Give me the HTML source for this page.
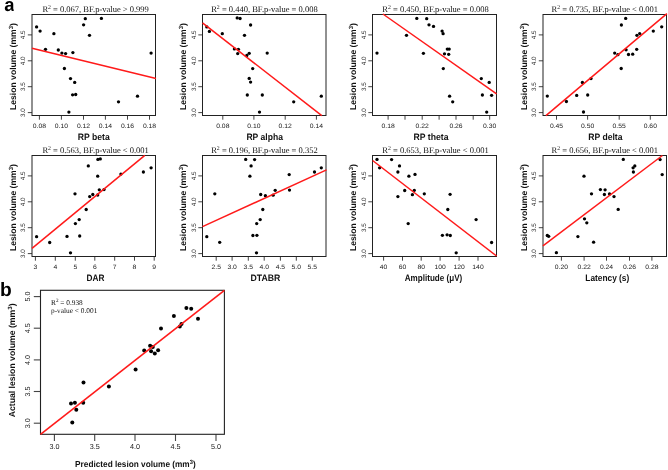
<!DOCTYPE html>
<html><head><meta charset="utf-8"><style>
html,body{margin:0;padding:0;background:#fff;}
svg{display:block;text-rendering:geometricPrecision;}
#w{will-change:transform;width:668px;height:470px;overflow:hidden;}
</style></head><body>
<div id="w"><svg width="668" height="470" viewBox="0 0 668 470">
<g>
<rect width="668" height="470" fill="#fff"/>
<clipPath id="ca"><rect x="0" y="0" width="13.7" height="14"/></clipPath>
<text x="4.3" y="10.9" clip-path="url(#ca)" font-family='"Liberation Sans", sans-serif' font-weight="bold" font-size="18.6" fill="#000">a</text>
<text x="0.1" y="295.5" font-family='"Liberation Sans", sans-serif' font-weight="bold" font-size="19.2" fill="#000">b</text>
<text x="42.4" y="11.6" font-family='"Liberation Serif", serif' font-size="8.5" fill="#111">R<tspan font-size="5.78" dy="-2.5">2</tspan><tspan dy="2.5"> = 0.067, BF.p-value &gt; 0.999</tspan></text>
<text transform="translate(15.7,66.5) rotate(-90)" font-family='"Liberation Sans", sans-serif' font-weight="bold" font-size="8.6" text-anchor="middle" fill="#111">Lesion volume (mm<tspan font-size="6.02" dy="-3.2">3</tspan><tspan dy="3.2">)</tspan></text>
<line x1="27.8" y1="112.6" x2="32" y2="112.6" stroke="#444" stroke-width="1"/>
<text transform="translate(25.2,112.6) rotate(-90)" font-family='"Liberation Sans", sans-serif' font-size="6.3" text-anchor="middle" fill="#1a1a1a">3.0</text>
<line x1="27.8" y1="86.7" x2="32" y2="86.7" stroke="#444" stroke-width="1"/>
<text transform="translate(25.2,86.7) rotate(-90)" font-family='"Liberation Sans", sans-serif' font-size="6.3" text-anchor="middle" fill="#1a1a1a">3.5</text>
<line x1="27.8" y1="60.8" x2="32" y2="60.8" stroke="#444" stroke-width="1"/>
<text transform="translate(25.2,60.8) rotate(-90)" font-family='"Liberation Sans", sans-serif' font-size="6.3" text-anchor="middle" fill="#1a1a1a">4.0</text>
<line x1="27.8" y1="34.9" x2="32" y2="34.9" stroke="#444" stroke-width="1"/>
<text transform="translate(25.2,34.9) rotate(-90)" font-family='"Liberation Sans", sans-serif' font-size="6.3" text-anchor="middle" fill="#1a1a1a">4.5</text>
<line x1="39.4" y1="115.5" x2="39.4" y2="119.7" stroke="#444" stroke-width="1"/>
<text transform="translate(39.4,127.6) scale(1.08,1)" font-family='"Liberation Sans", sans-serif' font-size="6.3" text-anchor="middle" fill="#1a1a1a">0.08</text>
<line x1="61.4" y1="115.5" x2="61.4" y2="119.7" stroke="#444" stroke-width="1"/>
<text transform="translate(61.4,127.6) scale(1.08,1)" font-family='"Liberation Sans", sans-serif' font-size="6.3" text-anchor="middle" fill="#1a1a1a">0.10</text>
<line x1="83.5" y1="115.5" x2="83.5" y2="119.7" stroke="#444" stroke-width="1"/>
<text transform="translate(83.5,127.6) scale(1.08,1)" font-family='"Liberation Sans", sans-serif' font-size="6.3" text-anchor="middle" fill="#1a1a1a">0.12</text>
<line x1="105.4" y1="115.5" x2="105.4" y2="119.7" stroke="#444" stroke-width="1"/>
<text transform="translate(105.4,127.6) scale(1.08,1)" font-family='"Liberation Sans", sans-serif' font-size="6.3" text-anchor="middle" fill="#1a1a1a">0.14</text>
<line x1="127.5" y1="115.5" x2="127.5" y2="119.7" stroke="#444" stroke-width="1"/>
<text transform="translate(127.5,127.6) scale(1.08,1)" font-family='"Liberation Sans", sans-serif' font-size="6.3" text-anchor="middle" fill="#1a1a1a">0.16</text>
<line x1="149.5" y1="115.5" x2="149.5" y2="119.7" stroke="#444" stroke-width="1"/>
<text transform="translate(149.5,127.6) scale(1.08,1)" font-family='"Liberation Sans", sans-serif' font-size="6.3" text-anchor="middle" fill="#1a1a1a">0.18</text>
<text x="93.75" y="140.25" font-family='"Liberation Sans", sans-serif' font-weight="bold" font-size="9.3" text-anchor="middle" textLength="32" lengthAdjust="spacingAndGlyphs" fill="#111">RP beta</text>
<rect x="32" y="14.5" width="123.5" height="101" fill="none" stroke="#222" stroke-width="1"/>
<circle cx="36.6" cy="26.9" r="1.65"/>
<circle cx="40.1" cy="31.1" r="1.65"/>
<circle cx="53.9" cy="33.7" r="1.65"/>
<circle cx="45.5" cy="49.3" r="1.65"/>
<circle cx="58.3" cy="50" r="1.65"/>
<circle cx="61.9" cy="53.1" r="1.65"/>
<circle cx="65.6" cy="53.6" r="1.65"/>
<circle cx="72.9" cy="52.6" r="1.65"/>
<circle cx="83.6" cy="24.8" r="1.65"/>
<circle cx="85.3" cy="18.7" r="1.65"/>
<circle cx="101.4" cy="18.4" r="1.65"/>
<circle cx="89.5" cy="35.3" r="1.65"/>
<circle cx="151.1" cy="53.1" r="1.65"/>
<circle cx="64.4" cy="68.5" r="1.65"/>
<circle cx="70.5" cy="78.6" r="1.65"/>
<circle cx="74.7" cy="82.4" r="1.65"/>
<circle cx="72.6" cy="94.8" r="1.65"/>
<circle cx="75.7" cy="94.5" r="1.65"/>
<circle cx="68.9" cy="112.1" r="1.65"/>
<circle cx="118.5" cy="101.8" r="1.65"/>
<circle cx="137.5" cy="96.2" r="1.65"/>
<line x1="32" y1="48.2" x2="156" y2="78.4" stroke="#ff1a1a" stroke-width="1.5"/>
<text x="211.2" y="11.6" font-family='"Liberation Serif", serif' font-size="8.5" fill="#111">R<tspan font-size="5.78" dy="-2.5">2</tspan><tspan dy="2.5"> = 0.440, BF.p-value = 0.008</tspan></text>
<text transform="translate(186.2,66.5) rotate(-90)" font-family='"Liberation Sans", sans-serif' font-weight="bold" font-size="8.6" text-anchor="middle" fill="#111">Lesion volume (mm<tspan font-size="6.02" dy="-3.2">3</tspan><tspan dy="3.2">)</tspan></text>
<line x1="198.3" y1="112.6" x2="202.5" y2="112.6" stroke="#444" stroke-width="1"/>
<text transform="translate(195.7,112.6) rotate(-90)" font-family='"Liberation Sans", sans-serif' font-size="6.3" text-anchor="middle" fill="#1a1a1a">3.0</text>
<line x1="198.3" y1="86.7" x2="202.5" y2="86.7" stroke="#444" stroke-width="1"/>
<text transform="translate(195.7,86.7) rotate(-90)" font-family='"Liberation Sans", sans-serif' font-size="6.3" text-anchor="middle" fill="#1a1a1a">3.5</text>
<line x1="198.3" y1="60.8" x2="202.5" y2="60.8" stroke="#444" stroke-width="1"/>
<text transform="translate(195.7,60.8) rotate(-90)" font-family='"Liberation Sans", sans-serif' font-size="6.3" text-anchor="middle" fill="#1a1a1a">4.0</text>
<line x1="198.3" y1="34.9" x2="202.5" y2="34.9" stroke="#444" stroke-width="1"/>
<text transform="translate(195.7,34.9) rotate(-90)" font-family='"Liberation Sans", sans-serif' font-size="6.3" text-anchor="middle" fill="#1a1a1a">4.5</text>
<line x1="222.8" y1="115.5" x2="222.8" y2="119.7" stroke="#444" stroke-width="1"/>
<text transform="translate(222.8,127.6) scale(1.08,1)" font-family='"Liberation Sans", sans-serif' font-size="6.3" text-anchor="middle" fill="#1a1a1a">0.08</text>
<line x1="253.9" y1="115.5" x2="253.9" y2="119.7" stroke="#444" stroke-width="1"/>
<text transform="translate(253.9,127.6) scale(1.08,1)" font-family='"Liberation Sans", sans-serif' font-size="6.3" text-anchor="middle" fill="#1a1a1a">0.10</text>
<line x1="285.2" y1="115.5" x2="285.2" y2="119.7" stroke="#444" stroke-width="1"/>
<text transform="translate(285.2,127.6) scale(1.08,1)" font-family='"Liberation Sans", sans-serif' font-size="6.3" text-anchor="middle" fill="#1a1a1a">0.12</text>
<line x1="316.4" y1="115.5" x2="316.4" y2="119.7" stroke="#444" stroke-width="1"/>
<text transform="translate(316.4,127.6) scale(1.08,1)" font-family='"Liberation Sans", sans-serif' font-size="6.3" text-anchor="middle" fill="#1a1a1a">0.14</text>
<text x="264.7" y="140.25" font-family='"Liberation Sans", sans-serif' font-weight="bold" font-size="9.3" text-anchor="middle" textLength="36.5" lengthAdjust="spacingAndGlyphs" fill="#111">RP alpha</text>
<rect x="202.5" y="14.5" width="123.5" height="101" fill="none" stroke="#222" stroke-width="1"/>
<circle cx="206.8" cy="26.9" r="1.65"/>
<circle cx="209.4" cy="31.4" r="1.65"/>
<circle cx="222.3" cy="33.7" r="1.65"/>
<circle cx="237.2" cy="17.9" r="1.65"/>
<circle cx="240.1" cy="18.5" r="1.65"/>
<circle cx="250.6" cy="25" r="1.65"/>
<circle cx="244.5" cy="35.3" r="1.65"/>
<circle cx="234.4" cy="48.9" r="1.65"/>
<circle cx="238.4" cy="49.3" r="1.65"/>
<circle cx="237.7" cy="53.6" r="1.65"/>
<circle cx="246.8" cy="55.5" r="1.65"/>
<circle cx="249.2" cy="53.3" r="1.65"/>
<circle cx="267.2" cy="53.1" r="1.65"/>
<circle cx="252.7" cy="68.6" r="1.65"/>
<circle cx="249.2" cy="78.4" r="1.65"/>
<circle cx="250.6" cy="82.1" r="1.65"/>
<circle cx="247.3" cy="95" r="1.65"/>
<circle cx="262.3" cy="95" r="1.65"/>
<circle cx="259.5" cy="112.1" r="1.65"/>
<circle cx="293.7" cy="101.8" r="1.65"/>
<circle cx="321.3" cy="96.2" r="1.65"/>
<line x1="202.5" y1="22.9" x2="321.8" y2="115.6" stroke="#ff1a1a" stroke-width="1.5"/>
<text x="382.3" y="11.6" font-family='"Liberation Serif", serif' font-size="8.5" fill="#111">R<tspan font-size="5.78" dy="-2.5">2</tspan><tspan dy="2.5"> = 0.450, BF.p-value = 0.008</tspan></text>
<text transform="translate(356.2,66.5) rotate(-90)" font-family='"Liberation Sans", sans-serif' font-weight="bold" font-size="8.6" text-anchor="middle" fill="#111">Lesion volume (mm<tspan font-size="6.02" dy="-3.2">3</tspan><tspan dy="3.2">)</tspan></text>
<line x1="368.3" y1="112.6" x2="372.5" y2="112.6" stroke="#444" stroke-width="1"/>
<text transform="translate(365.7,112.6) rotate(-90)" font-family='"Liberation Sans", sans-serif' font-size="6.3" text-anchor="middle" fill="#1a1a1a">3.0</text>
<line x1="368.3" y1="86.7" x2="372.5" y2="86.7" stroke="#444" stroke-width="1"/>
<text transform="translate(365.7,86.7) rotate(-90)" font-family='"Liberation Sans", sans-serif' font-size="6.3" text-anchor="middle" fill="#1a1a1a">3.5</text>
<line x1="368.3" y1="60.8" x2="372.5" y2="60.8" stroke="#444" stroke-width="1"/>
<text transform="translate(365.7,60.8) rotate(-90)" font-family='"Liberation Sans", sans-serif' font-size="6.3" text-anchor="middle" fill="#1a1a1a">4.0</text>
<line x1="368.3" y1="34.9" x2="372.5" y2="34.9" stroke="#444" stroke-width="1"/>
<text transform="translate(365.7,34.9) rotate(-90)" font-family='"Liberation Sans", sans-serif' font-size="6.3" text-anchor="middle" fill="#1a1a1a">4.5</text>
<line x1="388.1" y1="115.5" x2="388.1" y2="119.7" stroke="#444" stroke-width="1"/>
<text transform="translate(388.1,127.6) scale(1.08,1)" font-family='"Liberation Sans", sans-serif' font-size="6.3" text-anchor="middle" fill="#1a1a1a">0.18</text>
<line x1="405" y1="115.5" x2="405" y2="119.7" stroke="#444" stroke-width="1"/>
<line x1="422.2" y1="115.5" x2="422.2" y2="119.7" stroke="#444" stroke-width="1"/>
<text transform="translate(422.2,127.6) scale(1.08,1)" font-family='"Liberation Sans", sans-serif' font-size="6.3" text-anchor="middle" fill="#1a1a1a">0.22</text>
<line x1="439.1" y1="115.5" x2="439.1" y2="119.7" stroke="#444" stroke-width="1"/>
<line x1="456" y1="115.5" x2="456" y2="119.7" stroke="#444" stroke-width="1"/>
<text transform="translate(456,127.6) scale(1.08,1)" font-family='"Liberation Sans", sans-serif' font-size="6.3" text-anchor="middle" fill="#1a1a1a">0.26</text>
<line x1="473.2" y1="115.5" x2="473.2" y2="119.7" stroke="#444" stroke-width="1"/>
<line x1="489.7" y1="115.5" x2="489.7" y2="119.7" stroke="#444" stroke-width="1"/>
<text transform="translate(489.7,127.6) scale(1.08,1)" font-family='"Liberation Sans", sans-serif' font-size="6.3" text-anchor="middle" fill="#1a1a1a">0.30</text>
<text x="431" y="140.25" font-family='"Liberation Sans", sans-serif' font-weight="bold" font-size="9.3" text-anchor="middle" textLength="34.9" lengthAdjust="spacingAndGlyphs" fill="#111">RP theta</text>
<rect x="372.5" y="14.5" width="124" height="101" fill="none" stroke="#222" stroke-width="1"/>
<circle cx="377" cy="53.1" r="1.65"/>
<circle cx="406.5" cy="35.3" r="1.65"/>
<circle cx="416.8" cy="18.4" r="1.65"/>
<circle cx="426.7" cy="18.7" r="1.65"/>
<circle cx="429" cy="24.8" r="1.65"/>
<circle cx="433.5" cy="26.4" r="1.65"/>
<circle cx="442.1" cy="31.1" r="1.65"/>
<circle cx="443.1" cy="33.7" r="1.65"/>
<circle cx="423.4" cy="53.3" r="1.65"/>
<circle cx="447.3" cy="49.1" r="1.65"/>
<circle cx="449.2" cy="49.1" r="1.65"/>
<circle cx="444.5" cy="53.8" r="1.65"/>
<circle cx="448.7" cy="54.3" r="1.65"/>
<circle cx="443.3" cy="68.6" r="1.65"/>
<circle cx="449.6" cy="96.2" r="1.65"/>
<circle cx="452.7" cy="101.8" r="1.65"/>
<circle cx="481.3" cy="78.6" r="1.65"/>
<circle cx="489.2" cy="82.4" r="1.65"/>
<circle cx="482.4" cy="95" r="1.65"/>
<circle cx="491.6" cy="95.3" r="1.65"/>
<circle cx="486.7" cy="112.1" r="1.65"/>
<line x1="382.9" y1="14" x2="496.6" y2="93.9" stroke="#ff1a1a" stroke-width="1.5"/>
<text x="551.6" y="11.6" font-family='"Liberation Serif", serif' font-size="8.5" fill="#111">R<tspan font-size="5.78" dy="-2.5">2</tspan><tspan dy="2.5"> = 0.735, BF.p-value &lt; 0.001</tspan></text>
<text transform="translate(526.7,66.5) rotate(-90)" font-family='"Liberation Sans", sans-serif' font-weight="bold" font-size="8.6" text-anchor="middle" fill="#111">Lesion volume (mm<tspan font-size="6.02" dy="-3.2">3</tspan><tspan dy="3.2">)</tspan></text>
<line x1="538.8" y1="112.6" x2="543" y2="112.6" stroke="#444" stroke-width="1"/>
<text transform="translate(536.2,112.6) rotate(-90)" font-family='"Liberation Sans", sans-serif' font-size="6.3" text-anchor="middle" fill="#1a1a1a">3.0</text>
<line x1="538.8" y1="86.7" x2="543" y2="86.7" stroke="#444" stroke-width="1"/>
<text transform="translate(536.2,86.7) rotate(-90)" font-family='"Liberation Sans", sans-serif' font-size="6.3" text-anchor="middle" fill="#1a1a1a">3.5</text>
<line x1="538.8" y1="60.8" x2="543" y2="60.8" stroke="#444" stroke-width="1"/>
<text transform="translate(536.2,60.8) rotate(-90)" font-family='"Liberation Sans", sans-serif' font-size="6.3" text-anchor="middle" fill="#1a1a1a">4.0</text>
<line x1="538.8" y1="34.9" x2="543" y2="34.9" stroke="#444" stroke-width="1"/>
<text transform="translate(536.2,34.9) rotate(-90)" font-family='"Liberation Sans", sans-serif' font-size="6.3" text-anchor="middle" fill="#1a1a1a">4.5</text>
<line x1="556.5" y1="115.5" x2="556.5" y2="119.7" stroke="#444" stroke-width="1"/>
<text transform="translate(556.5,127.6) scale(1.08,1)" font-family='"Liberation Sans", sans-serif' font-size="6.3" text-anchor="middle" fill="#1a1a1a">0.45</text>
<line x1="587.6" y1="115.5" x2="587.6" y2="119.7" stroke="#444" stroke-width="1"/>
<text transform="translate(587.6,127.6) scale(1.08,1)" font-family='"Liberation Sans", sans-serif' font-size="6.3" text-anchor="middle" fill="#1a1a1a">0.50</text>
<line x1="619.2" y1="115.5" x2="619.2" y2="119.7" stroke="#444" stroke-width="1"/>
<text transform="translate(619.2,127.6) scale(1.08,1)" font-family='"Liberation Sans", sans-serif' font-size="6.3" text-anchor="middle" fill="#1a1a1a">0.55</text>
<line x1="650.3" y1="115.5" x2="650.3" y2="119.7" stroke="#444" stroke-width="1"/>
<text transform="translate(650.3,127.6) scale(1.08,1)" font-family='"Liberation Sans", sans-serif' font-size="6.3" text-anchor="middle" fill="#1a1a1a">0.60</text>
<text x="605.4" y="140.25" font-family='"Liberation Sans", sans-serif' font-weight="bold" font-size="9.3" text-anchor="middle" textLength="34.2" lengthAdjust="spacingAndGlyphs" fill="#111">RP delta</text>
<rect x="543" y="14.5" width="123.5" height="101" fill="none" stroke="#222" stroke-width="1"/>
<circle cx="547.3" cy="96.1" r="1.65"/>
<circle cx="566.4" cy="101.5" r="1.65"/>
<circle cx="576.7" cy="95.4" r="1.65"/>
<circle cx="582.4" cy="82.5" r="1.65"/>
<circle cx="587.7" cy="95" r="1.65"/>
<circle cx="591" cy="78.6" r="1.65"/>
<circle cx="583.5" cy="112" r="1.65"/>
<circle cx="614.7" cy="53.1" r="1.65"/>
<circle cx="617.9" cy="54.7" r="1.65"/>
<circle cx="621.4" cy="25" r="1.65"/>
<circle cx="625.7" cy="18.4" r="1.65"/>
<circle cx="621.2" cy="68.5" r="1.65"/>
<circle cx="626.1" cy="49.8" r="1.65"/>
<circle cx="628.5" cy="54.5" r="1.65"/>
<circle cx="632.7" cy="54.2" r="1.65"/>
<circle cx="636.7" cy="49.3" r="1.65"/>
<circle cx="636.9" cy="35.3" r="1.65"/>
<circle cx="639.7" cy="33.6" r="1.65"/>
<circle cx="653.3" cy="31.1" r="1.65"/>
<circle cx="661.7" cy="26.8" r="1.65"/>
<line x1="545.9" y1="115.6" x2="666.9" y2="13.6" stroke="#ff1a1a" stroke-width="1.5"/>
<text x="42.4" y="152.6" font-family='"Liberation Serif", serif' font-size="8.5" fill="#111">R<tspan font-size="5.78" dy="-2.5">2</tspan><tspan dy="2.5"> = 0.563, BF.p-value &lt; 0.001</tspan></text>
<text transform="translate(15.7,207.5) rotate(-90)" font-family='"Liberation Sans", sans-serif' font-weight="bold" font-size="8.6" text-anchor="middle" fill="#111">Lesion volume (mm<tspan font-size="6.02" dy="-3.2">3</tspan><tspan dy="3.2">)</tspan></text>
<line x1="27.8" y1="253.6" x2="32" y2="253.6" stroke="#444" stroke-width="1"/>
<text transform="translate(25.2,253.6) rotate(-90)" font-family='"Liberation Sans", sans-serif' font-size="6.3" text-anchor="middle" fill="#1a1a1a">3.0</text>
<line x1="27.8" y1="227.7" x2="32" y2="227.7" stroke="#444" stroke-width="1"/>
<text transform="translate(25.2,227.7) rotate(-90)" font-family='"Liberation Sans", sans-serif' font-size="6.3" text-anchor="middle" fill="#1a1a1a">3.5</text>
<line x1="27.8" y1="201.8" x2="32" y2="201.8" stroke="#444" stroke-width="1"/>
<text transform="translate(25.2,201.8) rotate(-90)" font-family='"Liberation Sans", sans-serif' font-size="6.3" text-anchor="middle" fill="#1a1a1a">4.0</text>
<line x1="27.8" y1="175.9" x2="32" y2="175.9" stroke="#444" stroke-width="1"/>
<text transform="translate(25.2,175.9) rotate(-90)" font-family='"Liberation Sans", sans-serif' font-size="6.3" text-anchor="middle" fill="#1a1a1a">4.5</text>
<line x1="35.4" y1="256.5" x2="35.4" y2="260.7" stroke="#444" stroke-width="1"/>
<text transform="translate(35.4,268.6) scale(1.08,1)" font-family='"Liberation Sans", sans-serif' font-size="6.3" text-anchor="middle" fill="#1a1a1a">3</text>
<line x1="55.3" y1="256.5" x2="55.3" y2="260.7" stroke="#444" stroke-width="1"/>
<text transform="translate(55.3,268.6) scale(1.08,1)" font-family='"Liberation Sans", sans-serif' font-size="6.3" text-anchor="middle" fill="#1a1a1a">4</text>
<line x1="75.3" y1="256.5" x2="75.3" y2="260.7" stroke="#444" stroke-width="1"/>
<text transform="translate(75.3,268.6) scale(1.08,1)" font-family='"Liberation Sans", sans-serif' font-size="6.3" text-anchor="middle" fill="#1a1a1a">5</text>
<line x1="94.8" y1="256.5" x2="94.8" y2="260.7" stroke="#444" stroke-width="1"/>
<text transform="translate(94.8,268.6) scale(1.08,1)" font-family='"Liberation Sans", sans-serif' font-size="6.3" text-anchor="middle" fill="#1a1a1a">6</text>
<line x1="114.7" y1="256.5" x2="114.7" y2="260.7" stroke="#444" stroke-width="1"/>
<text transform="translate(114.7,268.6) scale(1.08,1)" font-family='"Liberation Sans", sans-serif' font-size="6.3" text-anchor="middle" fill="#1a1a1a">7</text>
<line x1="134.5" y1="256.5" x2="134.5" y2="260.7" stroke="#444" stroke-width="1"/>
<text transform="translate(134.5,268.6) scale(1.08,1)" font-family='"Liberation Sans", sans-serif' font-size="6.3" text-anchor="middle" fill="#1a1a1a">8</text>
<line x1="154.2" y1="256.5" x2="154.2" y2="260.7" stroke="#444" stroke-width="1"/>
<text transform="translate(154.2,268.6) scale(1.08,1)" font-family='"Liberation Sans", sans-serif' font-size="6.3" text-anchor="middle" fill="#1a1a1a">9</text>
<text x="95.5" y="281" font-family='"Liberation Sans", sans-serif' font-weight="bold" font-size="9.3" text-anchor="middle" textLength="17.9" lengthAdjust="spacingAndGlyphs" fill="#111">DAR</text>
<rect x="32" y="155.5" width="123.5" height="101" fill="none" stroke="#222" stroke-width="1"/>
<circle cx="36.6" cy="236.7" r="1.65"/>
<circle cx="49.7" cy="242.5" r="1.65"/>
<circle cx="67" cy="236.4" r="1.65"/>
<circle cx="70.5" cy="252.8" r="1.65"/>
<circle cx="75.4" cy="223.6" r="1.65"/>
<circle cx="79.2" cy="219.6" r="1.65"/>
<circle cx="79.7" cy="236" r="1.65"/>
<circle cx="86.2" cy="209.5" r="1.65"/>
<circle cx="75" cy="193.8" r="1.65"/>
<circle cx="89.7" cy="196.6" r="1.65"/>
<circle cx="92.8" cy="194.5" r="1.65"/>
<circle cx="97.7" cy="195" r="1.65"/>
<circle cx="99.3" cy="189.8" r="1.65"/>
<circle cx="104" cy="189.6" r="1.65"/>
<circle cx="97.7" cy="176.2" r="1.65"/>
<circle cx="88.3" cy="165.9" r="1.65"/>
<circle cx="97.9" cy="159.4" r="1.65"/>
<circle cx="100.3" cy="158.9" r="1.65"/>
<circle cx="120.9" cy="174.1" r="1.65"/>
<circle cx="143.4" cy="172" r="1.65"/>
<circle cx="151.1" cy="167.8" r="1.65"/>
<line x1="32" y1="248.4" x2="144.8" y2="155.3" stroke="#ff1a1a" stroke-width="1.5"/>
<text x="211.2" y="152.6" font-family='"Liberation Serif", serif' font-size="8.5" fill="#111">R<tspan font-size="5.78" dy="-2.5">2</tspan><tspan dy="2.5"> = 0.196, BF.p-value = 0.352</tspan></text>
<text transform="translate(186.2,207.5) rotate(-90)" font-family='"Liberation Sans", sans-serif' font-weight="bold" font-size="8.6" text-anchor="middle" fill="#111">Lesion volume (mm<tspan font-size="6.02" dy="-3.2">3</tspan><tspan dy="3.2">)</tspan></text>
<line x1="198.3" y1="253.6" x2="202.5" y2="253.6" stroke="#444" stroke-width="1"/>
<text transform="translate(195.7,253.6) rotate(-90)" font-family='"Liberation Sans", sans-serif' font-size="6.3" text-anchor="middle" fill="#1a1a1a">3.0</text>
<line x1="198.3" y1="227.7" x2="202.5" y2="227.7" stroke="#444" stroke-width="1"/>
<text transform="translate(195.7,227.7) rotate(-90)" font-family='"Liberation Sans", sans-serif' font-size="6.3" text-anchor="middle" fill="#1a1a1a">3.5</text>
<line x1="198.3" y1="201.8" x2="202.5" y2="201.8" stroke="#444" stroke-width="1"/>
<text transform="translate(195.7,201.8) rotate(-90)" font-family='"Liberation Sans", sans-serif' font-size="6.3" text-anchor="middle" fill="#1a1a1a">4.0</text>
<line x1="198.3" y1="175.9" x2="202.5" y2="175.9" stroke="#444" stroke-width="1"/>
<text transform="translate(195.7,175.9) rotate(-90)" font-family='"Liberation Sans", sans-serif' font-size="6.3" text-anchor="middle" fill="#1a1a1a">4.5</text>
<line x1="216.2" y1="256.5" x2="216.2" y2="260.7" stroke="#444" stroke-width="1"/>
<text transform="translate(216.2,268.6) scale(1.08,1)" font-family='"Liberation Sans", sans-serif' font-size="6.3" text-anchor="middle" fill="#1a1a1a">2.5</text>
<line x1="232.1" y1="256.5" x2="232.1" y2="260.7" stroke="#444" stroke-width="1"/>
<text transform="translate(232.1,268.6) scale(1.08,1)" font-family='"Liberation Sans", sans-serif' font-size="6.3" text-anchor="middle" fill="#1a1a1a">3.0</text>
<line x1="248.3" y1="256.5" x2="248.3" y2="260.7" stroke="#444" stroke-width="1"/>
<text transform="translate(248.3,268.6) scale(1.08,1)" font-family='"Liberation Sans", sans-serif' font-size="6.3" text-anchor="middle" fill="#1a1a1a">3.5</text>
<line x1="264.2" y1="256.5" x2="264.2" y2="260.7" stroke="#444" stroke-width="1"/>
<text transform="translate(264.2,268.6) scale(1.08,1)" font-family='"Liberation Sans", sans-serif' font-size="6.3" text-anchor="middle" fill="#1a1a1a">4.0</text>
<line x1="280.4" y1="256.5" x2="280.4" y2="260.7" stroke="#444" stroke-width="1"/>
<text transform="translate(280.4,268.6) scale(1.08,1)" font-family='"Liberation Sans", sans-serif' font-size="6.3" text-anchor="middle" fill="#1a1a1a">4.5</text>
<line x1="296.3" y1="256.5" x2="296.3" y2="260.7" stroke="#444" stroke-width="1"/>
<text transform="translate(296.3,268.6) scale(1.08,1)" font-family='"Liberation Sans", sans-serif' font-size="6.3" text-anchor="middle" fill="#1a1a1a">5.0</text>
<line x1="312.3" y1="256.5" x2="312.3" y2="260.7" stroke="#444" stroke-width="1"/>
<text transform="translate(312.3,268.6) scale(1.08,1)" font-family='"Liberation Sans", sans-serif' font-size="6.3" text-anchor="middle" fill="#1a1a1a">5.5</text>
<text x="265.45" y="280.9" font-family='"Liberation Sans", sans-serif' font-weight="bold" font-size="9.3" text-anchor="middle" textLength="29.8" lengthAdjust="spacingAndGlyphs" fill="#111">DTABR</text>
<rect x="202.5" y="155.5" width="123.5" height="101" fill="none" stroke="#222" stroke-width="1"/>
<circle cx="206.8" cy="236.7" r="1.65"/>
<circle cx="219.7" cy="242.3" r="1.65"/>
<circle cx="214.8" cy="193.8" r="1.65"/>
<circle cx="245.7" cy="159.4" r="1.65"/>
<circle cx="254.6" cy="159.6" r="1.65"/>
<circle cx="251.1" cy="165.9" r="1.65"/>
<circle cx="249.9" cy="176.2" r="1.65"/>
<circle cx="260.7" cy="194.5" r="1.65"/>
<circle cx="265.4" cy="195.7" r="1.65"/>
<circle cx="262.8" cy="209.5" r="1.65"/>
<circle cx="260.2" cy="219.6" r="1.65"/>
<circle cx="256.7" cy="223.6" r="1.65"/>
<circle cx="252.9" cy="235.5" r="1.65"/>
<circle cx="256.9" cy="235.3" r="1.65"/>
<circle cx="256.5" cy="252.8" r="1.65"/>
<circle cx="273.1" cy="195.2" r="1.65"/>
<circle cx="275.2" cy="190.3" r="1.65"/>
<circle cx="289.2" cy="174.6" r="1.65"/>
<circle cx="289.5" cy="190.1" r="1.65"/>
<circle cx="314.5" cy="172" r="1.65"/>
<circle cx="321.3" cy="167.8" r="1.65"/>
<line x1="202.5" y1="226.6" x2="326.5" y2="169.9" stroke="#ff1a1a" stroke-width="1.5"/>
<text x="382.3" y="152.6" font-family='"Liberation Serif", serif' font-size="8.5" fill="#111">R<tspan font-size="5.78" dy="-2.5">2</tspan><tspan dy="2.5"> = 0.653, BF.p-value &lt; 0.001</tspan></text>
<text transform="translate(356.2,207.5) rotate(-90)" font-family='"Liberation Sans", sans-serif' font-weight="bold" font-size="8.6" text-anchor="middle" fill="#111">Lesion volume (mm<tspan font-size="6.02" dy="-3.2">3</tspan><tspan dy="3.2">)</tspan></text>
<line x1="368.3" y1="253.6" x2="372.5" y2="253.6" stroke="#444" stroke-width="1"/>
<text transform="translate(365.7,253.6) rotate(-90)" font-family='"Liberation Sans", sans-serif' font-size="6.3" text-anchor="middle" fill="#1a1a1a">3.0</text>
<line x1="368.3" y1="227.7" x2="372.5" y2="227.7" stroke="#444" stroke-width="1"/>
<text transform="translate(365.7,227.7) rotate(-90)" font-family='"Liberation Sans", sans-serif' font-size="6.3" text-anchor="middle" fill="#1a1a1a">3.5</text>
<line x1="368.3" y1="201.8" x2="372.5" y2="201.8" stroke="#444" stroke-width="1"/>
<text transform="translate(365.7,201.8) rotate(-90)" font-family='"Liberation Sans", sans-serif' font-size="6.3" text-anchor="middle" fill="#1a1a1a">4.0</text>
<line x1="368.3" y1="175.9" x2="372.5" y2="175.9" stroke="#444" stroke-width="1"/>
<text transform="translate(365.7,175.9) rotate(-90)" font-family='"Liberation Sans", sans-serif' font-size="6.3" text-anchor="middle" fill="#1a1a1a">4.5</text>
<line x1="383.6" y1="256.5" x2="383.6" y2="260.7" stroke="#444" stroke-width="1"/>
<text transform="translate(383.6,268.6) scale(1.08,1)" font-family='"Liberation Sans", sans-serif' font-size="6.3" text-anchor="middle" fill="#1a1a1a">40</text>
<line x1="402.5" y1="256.5" x2="402.5" y2="260.7" stroke="#444" stroke-width="1"/>
<text transform="translate(402.5,268.6) scale(1.08,1)" font-family='"Liberation Sans", sans-serif' font-size="6.3" text-anchor="middle" fill="#1a1a1a">60</text>
<line x1="421.2" y1="256.5" x2="421.2" y2="260.7" stroke="#444" stroke-width="1"/>
<text transform="translate(421.2,268.6) scale(1.08,1)" font-family='"Liberation Sans", sans-serif' font-size="6.3" text-anchor="middle" fill="#1a1a1a">80</text>
<line x1="440.1" y1="256.5" x2="440.1" y2="260.7" stroke="#444" stroke-width="1"/>
<text transform="translate(440.1,268.6) scale(1.08,1)" font-family='"Liberation Sans", sans-serif' font-size="6.3" text-anchor="middle" fill="#1a1a1a">100</text>
<line x1="459.1" y1="256.5" x2="459.1" y2="260.7" stroke="#444" stroke-width="1"/>
<text transform="translate(459.1,268.6) scale(1.08,1)" font-family='"Liberation Sans", sans-serif' font-size="6.3" text-anchor="middle" fill="#1a1a1a">120</text>
<line x1="478" y1="256.5" x2="478" y2="260.7" stroke="#444" stroke-width="1"/>
<text transform="translate(478,268.6) scale(1.08,1)" font-family='"Liberation Sans", sans-serif' font-size="6.3" text-anchor="middle" fill="#1a1a1a">140</text>
<text x="433.5" y="280.7" font-family='"Liberation Sans", sans-serif' font-weight="bold" font-size="9.3" text-anchor="middle" textLength="57.5" lengthAdjust="spacingAndGlyphs" fill="#111">Amplitude (μV)</text>
<rect x="372.5" y="155.5" width="124" height="101" fill="none" stroke="#222" stroke-width="1"/>
<circle cx="377" cy="159.4" r="1.65"/>
<circle cx="391.6" cy="159.6" r="1.65"/>
<circle cx="379.6" cy="167.8" r="1.65"/>
<circle cx="399.5" cy="165.9" r="1.65"/>
<circle cx="397.9" cy="172" r="1.65"/>
<circle cx="408.9" cy="176.2" r="1.65"/>
<circle cx="415" cy="174.4" r="1.65"/>
<circle cx="404.7" cy="190.5" r="1.65"/>
<circle cx="414.3" cy="190.3" r="1.65"/>
<circle cx="412.4" cy="194.7" r="1.65"/>
<circle cx="397.9" cy="196.6" r="1.65"/>
<circle cx="424.3" cy="193.8" r="1.65"/>
<circle cx="450.1" cy="194.3" r="1.65"/>
<circle cx="447.8" cy="209.5" r="1.65"/>
<circle cx="408.2" cy="223.6" r="1.65"/>
<circle cx="476.1" cy="219.6" r="1.65"/>
<circle cx="442.4" cy="235.3" r="1.65"/>
<circle cx="447.1" cy="234.8" r="1.65"/>
<circle cx="450.3" cy="235.5" r="1.65"/>
<circle cx="456.2" cy="252.8" r="1.65"/>
<circle cx="491.6" cy="242.5" r="1.65"/>
<line x1="372.6" y1="160.5" x2="496.6" y2="256" stroke="#ff1a1a" stroke-width="1.5"/>
<text x="551.6" y="152.6" font-family='"Liberation Serif", serif' font-size="8.5" fill="#111">R<tspan font-size="5.78" dy="-2.5">2</tspan><tspan dy="2.5"> = 0.656, BF.p-value &lt; 0.001</tspan></text>
<text transform="translate(526.7,207.5) rotate(-90)" font-family='"Liberation Sans", sans-serif' font-weight="bold" font-size="8.6" text-anchor="middle" fill="#111">Lesion volume (mm<tspan font-size="6.02" dy="-3.2">3</tspan><tspan dy="3.2">)</tspan></text>
<line x1="538.8" y1="253.6" x2="543" y2="253.6" stroke="#444" stroke-width="1"/>
<text transform="translate(536.2,253.6) rotate(-90)" font-family='"Liberation Sans", sans-serif' font-size="6.3" text-anchor="middle" fill="#1a1a1a">3.0</text>
<line x1="538.8" y1="227.7" x2="543" y2="227.7" stroke="#444" stroke-width="1"/>
<text transform="translate(536.2,227.7) rotate(-90)" font-family='"Liberation Sans", sans-serif' font-size="6.3" text-anchor="middle" fill="#1a1a1a">3.5</text>
<line x1="538.8" y1="201.8" x2="543" y2="201.8" stroke="#444" stroke-width="1"/>
<text transform="translate(536.2,201.8) rotate(-90)" font-family='"Liberation Sans", sans-serif' font-size="6.3" text-anchor="middle" fill="#1a1a1a">4.0</text>
<line x1="538.8" y1="175.9" x2="543" y2="175.9" stroke="#444" stroke-width="1"/>
<text transform="translate(536.2,175.9) rotate(-90)" font-family='"Liberation Sans", sans-serif' font-size="6.3" text-anchor="middle" fill="#1a1a1a">4.5</text>
<line x1="561.4" y1="256.5" x2="561.4" y2="260.7" stroke="#444" stroke-width="1"/>
<text transform="translate(561.4,268.6) scale(1.08,1)" font-family='"Liberation Sans", sans-serif' font-size="6.3" text-anchor="middle" fill="#1a1a1a">0.20</text>
<line x1="584.1" y1="256.5" x2="584.1" y2="260.7" stroke="#444" stroke-width="1"/>
<text transform="translate(584.1,268.6) scale(1.08,1)" font-family='"Liberation Sans", sans-serif' font-size="6.3" text-anchor="middle" fill="#1a1a1a">0.22</text>
<line x1="606.5" y1="256.5" x2="606.5" y2="260.7" stroke="#444" stroke-width="1"/>
<text transform="translate(606.5,268.6) scale(1.08,1)" font-family='"Liberation Sans", sans-serif' font-size="6.3" text-anchor="middle" fill="#1a1a1a">0.24</text>
<line x1="629.5" y1="256.5" x2="629.5" y2="260.7" stroke="#444" stroke-width="1"/>
<text transform="translate(629.5,268.6) scale(1.08,1)" font-family='"Liberation Sans", sans-serif' font-size="6.3" text-anchor="middle" fill="#1a1a1a">0.26</text>
<line x1="651.9" y1="256.5" x2="651.9" y2="260.7" stroke="#444" stroke-width="1"/>
<text transform="translate(651.9,268.6) scale(1.08,1)" font-family='"Liberation Sans", sans-serif' font-size="6.3" text-anchor="middle" fill="#1a1a1a">0.28</text>
<text x="607.3" y="280.7" font-family='"Liberation Sans", sans-serif' font-weight="bold" font-size="9.3" text-anchor="middle" textLength="43.9" lengthAdjust="spacingAndGlyphs" fill="#111">Latency (s)</text>
<rect x="543" y="155.5" width="123.5" height="101" fill="none" stroke="#222" stroke-width="1"/>
<circle cx="547.3" cy="235.5" r="1.65"/>
<circle cx="548.7" cy="236.3" r="1.65"/>
<circle cx="556.4" cy="252.7" r="1.65"/>
<circle cx="577.9" cy="236.6" r="1.65"/>
<circle cx="584.5" cy="218.8" r="1.65"/>
<circle cx="586.8" cy="222.8" r="1.65"/>
<circle cx="593.6" cy="242.2" r="1.65"/>
<circle cx="584" cy="176.2" r="1.65"/>
<circle cx="591.5" cy="193.8" r="1.65"/>
<circle cx="600.4" cy="189.6" r="1.65"/>
<circle cx="605.1" cy="189.8" r="1.65"/>
<circle cx="604.4" cy="194.5" r="1.65"/>
<circle cx="609.5" cy="194" r="1.65"/>
<circle cx="614" cy="196.6" r="1.65"/>
<circle cx="618.2" cy="209.4" r="1.65"/>
<circle cx="623.3" cy="159.4" r="1.65"/>
<circle cx="633.1" cy="167.8" r="1.65"/>
<circle cx="634.8" cy="165.9" r="1.65"/>
<circle cx="633.4" cy="172" r="1.65"/>
<circle cx="660.1" cy="159.6" r="1.65"/>
<circle cx="662.2" cy="174.6" r="1.65"/>
<line x1="542.9" y1="245.8" x2="662.4" y2="155.5" stroke="#ff1a1a" stroke-width="1.5"/>
<line x1="33.8" y1="423.2" x2="40.5" y2="423.2" stroke="#444" stroke-width="1.1"/>
<text transform="translate(30.4,423.2) rotate(-90)" font-family='"Liberation Sans", sans-serif' font-size="7.2" text-anchor="middle" fill="#1a1a1a">3.0</text>
<line x1="33.8" y1="391.5" x2="40.5" y2="391.5" stroke="#444" stroke-width="1.1"/>
<text transform="translate(30.4,391.5) rotate(-90)" font-family='"Liberation Sans", sans-serif' font-size="7.2" text-anchor="middle" fill="#1a1a1a">3.5</text>
<line x1="33.8" y1="359.9" x2="40.5" y2="359.9" stroke="#444" stroke-width="1.1"/>
<text transform="translate(30.4,359.9) rotate(-90)" font-family='"Liberation Sans", sans-serif' font-size="7.2" text-anchor="middle" fill="#1a1a1a">4.0</text>
<line x1="33.8" y1="328.2" x2="40.5" y2="328.2" stroke="#444" stroke-width="1.1"/>
<text transform="translate(30.4,328.2) rotate(-90)" font-family='"Liberation Sans", sans-serif' font-size="7.2" text-anchor="middle" fill="#1a1a1a">4.5</text>
<line x1="33.8" y1="296.6" x2="40.5" y2="296.6" stroke="#444" stroke-width="1.1"/>
<text transform="translate(30.4,296.6) rotate(-90)" font-family='"Liberation Sans", sans-serif' font-size="7.2" text-anchor="middle" fill="#1a1a1a">5.0</text>
<line x1="54.4" y1="434.3" x2="54.4" y2="441" stroke="#444" stroke-width="1.1"/>
<text x="54.4" y="449" font-family='"Liberation Sans", sans-serif' font-size="7.2" text-anchor="middle" fill="#1a1a1a">3.0</text>
<line x1="94.7" y1="434.3" x2="94.7" y2="441" stroke="#444" stroke-width="1.1"/>
<text x="94.7" y="449" font-family='"Liberation Sans", sans-serif' font-size="7.2" text-anchor="middle" fill="#1a1a1a">3.5</text>
<line x1="135" y1="434.3" x2="135" y2="441" stroke="#444" stroke-width="1.1"/>
<text x="135" y="449" font-family='"Liberation Sans", sans-serif' font-size="7.2" text-anchor="middle" fill="#1a1a1a">4.0</text>
<line x1="175.5" y1="434.3" x2="175.5" y2="441" stroke="#444" stroke-width="1.1"/>
<text x="175.5" y="449" font-family='"Liberation Sans", sans-serif' font-size="7.2" text-anchor="middle" fill="#1a1a1a">4.5</text>
<line x1="216" y1="434.3" x2="216" y2="441" stroke="#444" stroke-width="1.1"/>
<text x="216" y="449" font-family='"Liberation Sans", sans-serif' font-size="7.2" text-anchor="middle" fill="#1a1a1a">5.0</text>
<text x="135.4" y="466.9" font-family='"Liberation Sans", sans-serif' font-weight="bold" font-size="8.7" text-anchor="middle" textLength="120.6" lengthAdjust="spacingAndGlyphs" fill="#111">Predicted lesion volume (mm<tspan font-size="6.09" dy="-3.2">3</tspan><tspan dy="3.2">)</tspan></text>
<text transform="translate(14.9,360.4) rotate(-90)" font-family='"Liberation Sans", sans-serif' font-weight="bold" font-size="8.7" text-anchor="middle" fill="#111">Actual lesion volume (mm<tspan font-size="6.09" dy="-3.2">3</tspan><tspan dy="3.2">)</tspan></text>
<text x="51.0" y="304.7" font-family='"Liberation Serif", serif' font-size="7.35" fill="#111">R<tspan font-size="5.1" dy="-2.7">2</tspan><tspan dy="2.7"> = 0.938</tspan></text>
<text x="51.0" y="313.1" font-family='"Liberation Serif", serif' font-size="7.35" fill="#111">p-value &lt; 0.001</text>
<rect x="40.5" y="290.3" width="183.9" height="144" fill="none" stroke="#222" stroke-width="1.1"/>
<circle cx="71" cy="403.4" r="2.0"/>
<circle cx="74.9" cy="402.7" r="2.0"/>
<circle cx="76.3" cy="409.7" r="2.0"/>
<circle cx="72.3" cy="422.5" r="2.0"/>
<circle cx="83.2" cy="402.7" r="2.0"/>
<circle cx="83.5" cy="382.6" r="2.0"/>
<circle cx="108.9" cy="386.6" r="2.0"/>
<circle cx="135.6" cy="369.4" r="2.0"/>
<circle cx="144.2" cy="350.6" r="2.0"/>
<circle cx="150.1" cy="345.7" r="2.0"/>
<circle cx="152.8" cy="347" r="2.0"/>
<circle cx="151.1" cy="351.3" r="2.0"/>
<circle cx="154.8" cy="353.6" r="2.0"/>
<circle cx="158.1" cy="350.3" r="2.0"/>
<circle cx="161" cy="328.5" r="2.0"/>
<circle cx="173.9" cy="316" r="2.0"/>
<circle cx="179.8" cy="326.6" r="2.0"/>
<circle cx="181.5" cy="323.9" r="2.0"/>
<circle cx="186.4" cy="308.1" r="2.0"/>
<circle cx="191.2" cy="308.7" r="2.0"/>
<circle cx="198" cy="318.7" r="2.0"/>
<line x1="40.5" y1="434.3" x2="224.4" y2="290.3" stroke="#ff1a1a" stroke-width="1.6"/>
</g>
</svg></div>
</body></html>
